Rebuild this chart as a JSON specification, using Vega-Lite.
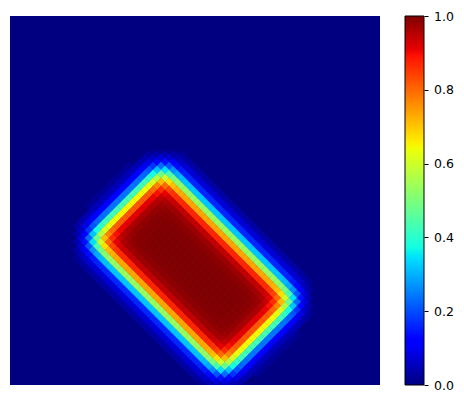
{"$schema":"https://vega.github.io/schema/vega-lite/v6.json","padding":{"left":10,"top":10,"right":0,"bottom":0},"background":"white","config":{"view":{"stroke":null},"font":"DejaVu Sans"},"spacing":24,"hconcat":[{"width":370,"height":369,"view":{"fill":"#000080","stroke":null},"data":{"values":[
{"x":181,"y":153,"v":0.021},{"x":185,"y":157,"v":0.026},{"x":189,"y":161,"v":0.029},{"x":193,"y":165,"v":0.031},{"x":197,"y":169,"v":0.032},{"x":201,"y":173,"v":0.032},{"x":205,"y":177,"v":0.032},{"x":209,"y":181,"v":0.032},{"x":213,"y":185,"v":0.032},{"x":217,"y":189,"v":0.032},{"x":221,"y":193,"v":0.032},{"x":225,"y":197,"v":0.032},{"x":229,"y":201,"v":0.032},{"x":233,"y":205,"v":0.032},{"x":237,"y":209,"v":0.032},{"x":241,"y":213,"v":0.032},{"x":245,"y":217,"v":0.032},{"x":249,"y":221,"v":0.032},{"x":253,"y":225,"v":0.032},{"x":257,"y":229,"v":0.032},{"x":261,"y":233,"v":0.032},{"x":265,"y":237,"v":0.032},{"x":269,"y":241,"v":0.032},{"x":273,"y":245,"v":0.032},{"x":277,"y":249,"v":0.032},{"x":281,"y":253,"v":0.032},{"x":285,"y":257,"v":0.032},{"x":289,"y":261,"v":0.032},{"x":293,"y":265,"v":0.032},{"x":297,"y":269,"v":0.031},{"x":301,"y":273,"v":0.029},{"x":305,"y":277,"v":0.026},{"x":309,"y":281,"v":0.021},
{"x":77,"y":257,"v":0.021},{"x":81,"y":261,"v":0.026},{"x":85,"y":265,"v":0.029},{"x":89,"y":269,"v":0.031},{"x":93,"y":273,"v":0.032},{"x":97,"y":277,"v":0.032},{"x":101,"y":281,"v":0.032},{"x":105,"y":285,"v":0.032},{"x":109,"y":289,"v":0.032},{"x":113,"y":293,"v":0.032},{"x":117,"y":297,"v":0.032},{"x":121,"y":301,"v":0.032},{"x":125,"y":305,"v":0.032},{"x":129,"y":309,"v":0.032},{"x":133,"y":313,"v":0.032},{"x":137,"y":317,"v":0.032},{"x":141,"y":321,"v":0.032},{"x":145,"y":325,"v":0.032},{"x":149,"y":329,"v":0.032},{"x":153,"y":333,"v":0.032},{"x":157,"y":337,"v":0.032},{"x":161,"y":341,"v":0.032},{"x":165,"y":345,"v":0.032},{"x":169,"y":349,"v":0.032},{"x":173,"y":353,"v":0.032},{"x":177,"y":357,"v":0.032},{"x":181,"y":361,"v":0.032},{"x":185,"y":365,"v":0.032},{"x":189,"y":369,"v":0.032},{"x":193,"y":373,"v":0.031},{"x":197,"y":377,"v":0.029},{"x":201,"y":381,"v":0.026},{"x":205,"y":385,"v":0.021},
{"x":173,"y":153,"v":0.032},{"x":177,"y":157,"v":0.048},{"x":181,"y":161,"v":0.061},{"x":185,"y":165,"v":0.068},{"x":189,"y":169,"v":0.071},{"x":193,"y":173,"v":0.073},{"x":197,"y":177,"v":0.074},{"x":201,"y":181,"v":0.074},{"x":205,"y":185,"v":0.074},{"x":209,"y":189,"v":0.074},{"x":213,"y":193,"v":0.074},{"x":217,"y":197,"v":0.074},{"x":221,"y":201,"v":0.074},{"x":225,"y":205,"v":0.074},{"x":229,"y":209,"v":0.074},{"x":233,"y":213,"v":0.074},{"x":237,"y":217,"v":0.074},{"x":241,"y":221,"v":0.074},{"x":245,"y":225,"v":0.074},{"x":249,"y":229,"v":0.074},{"x":253,"y":233,"v":0.074},{"x":257,"y":237,"v":0.074},{"x":261,"y":241,"v":0.074},{"x":265,"y":245,"v":0.074},{"x":269,"y":249,"v":0.074},{"x":273,"y":253,"v":0.074},{"x":277,"y":257,"v":0.074},{"x":281,"y":261,"v":0.074},{"x":285,"y":265,"v":0.074},{"x":289,"y":269,"v":0.073},{"x":293,"y":273,"v":0.071},{"x":297,"y":277,"v":0.068},{"x":301,"y":281,"v":0.061},{"x":305,"y":285,"v":0.048},{"x":309,"y":289,"v":0.032},
{"x":77,"y":249,"v":0.032},{"x":81,"y":253,"v":0.048},{"x":85,"y":257,"v":0.061},{"x":89,"y":261,"v":0.068},{"x":93,"y":265,"v":0.071},{"x":97,"y":269,"v":0.073},{"x":101,"y":273,"v":0.074},{"x":105,"y":277,"v":0.074},{"x":109,"y":281,"v":0.074},{"x":113,"y":285,"v":0.074},{"x":117,"y":289,"v":0.074},{"x":121,"y":293,"v":0.074},{"x":125,"y":297,"v":0.074},{"x":129,"y":301,"v":0.074},{"x":133,"y":305,"v":0.074},{"x":137,"y":309,"v":0.074},{"x":141,"y":313,"v":0.074},{"x":145,"y":317,"v":0.074},{"x":149,"y":321,"v":0.074},{"x":153,"y":325,"v":0.074},{"x":157,"y":329,"v":0.074},{"x":161,"y":333,"v":0.074},{"x":165,"y":337,"v":0.074},{"x":169,"y":341,"v":0.074},{"x":173,"y":345,"v":0.074},{"x":177,"y":349,"v":0.074},{"x":181,"y":353,"v":0.074},{"x":185,"y":357,"v":0.074},{"x":189,"y":361,"v":0.074},{"x":193,"y":365,"v":0.073},{"x":197,"y":369,"v":0.071},{"x":201,"y":373,"v":0.068},{"x":205,"y":377,"v":0.061},{"x":209,"y":381,"v":0.048},{"x":213,"y":385,"v":0.032},
{"x":165,"y":153,"v":0.039},{"x":169,"y":157,"v":0.07},{"x":173,"y":161,"v":0.105},{"x":177,"y":165,"v":0.133},{"x":181,"y":169,"v":0.148},{"x":185,"y":173,"v":0.156},{"x":189,"y":177,"v":0.16},{"x":193,"y":181,"v":0.161},{"x":197,"y":185,"v":0.162},{"x":201,"y":189,"v":0.162},{"x":205,"y":193,"v":0.162},{"x":209,"y":197,"v":0.162},{"x":213,"y":201,"v":0.162},{"x":217,"y":205,"v":0.162},{"x":221,"y":209,"v":0.162},{"x":225,"y":213,"v":0.162},{"x":229,"y":217,"v":0.162},{"x":233,"y":221,"v":0.162},{"x":237,"y":225,"v":0.162},{"x":241,"y":229,"v":0.162},{"x":245,"y":233,"v":0.162},{"x":249,"y":237,"v":0.162},{"x":253,"y":241,"v":0.162},{"x":257,"y":245,"v":0.162},{"x":261,"y":249,"v":0.162},{"x":265,"y":253,"v":0.162},{"x":269,"y":257,"v":0.162},{"x":273,"y":261,"v":0.162},{"x":277,"y":265,"v":0.162},{"x":281,"y":269,"v":0.161},{"x":285,"y":273,"v":0.16},{"x":289,"y":277,"v":0.156},{"x":293,"y":281,"v":0.148},{"x":297,"y":285,"v":0.133},{"x":301,"y":289,"v":0.105},{"x":305,"y":293,"v":0.07},{"x":309,"y":297,"v":0.039},
{"x":77,"y":241,"v":0.039},{"x":81,"y":245,"v":0.07},{"x":85,"y":249,"v":0.105},{"x":89,"y":253,"v":0.133},{"x":93,"y":257,"v":0.148},{"x":97,"y":261,"v":0.156},{"x":101,"y":265,"v":0.16},{"x":105,"y":269,"v":0.161},{"x":109,"y":273,"v":0.162},{"x":113,"y":277,"v":0.162},{"x":117,"y":281,"v":0.162},{"x":121,"y":285,"v":0.162},{"x":125,"y":289,"v":0.162},{"x":129,"y":293,"v":0.162},{"x":133,"y":297,"v":0.162},{"x":137,"y":301,"v":0.162},{"x":141,"y":305,"v":0.162},{"x":145,"y":309,"v":0.162},{"x":149,"y":313,"v":0.162},{"x":153,"y":317,"v":0.162},{"x":157,"y":321,"v":0.162},{"x":161,"y":325,"v":0.162},{"x":165,"y":329,"v":0.162},{"x":169,"y":333,"v":0.162},{"x":173,"y":337,"v":0.162},{"x":177,"y":341,"v":0.162},{"x":181,"y":345,"v":0.162},{"x":185,"y":349,"v":0.162},{"x":189,"y":353,"v":0.162},{"x":193,"y":357,"v":0.161},{"x":197,"y":361,"v":0.16},{"x":201,"y":365,"v":0.156},{"x":205,"y":369,"v":0.148},{"x":209,"y":373,"v":0.133},{"x":213,"y":377,"v":0.105},{"x":217,"y":381,"v":0.07},{"x":221,"y":385,"v":0.039},
{"x":157,"y":153,"v":0.036},{"x":161,"y":157,"v":0.076},{"x":165,"y":161,"v":0.138},{"x":169,"y":165,"v":0.207},{"x":173,"y":169,"v":0.262},{"x":177,"y":173,"v":0.293},{"x":181,"y":177,"v":0.308},{"x":185,"y":181,"v":0.315},{"x":189,"y":185,"v":0.318},{"x":193,"y":189,"v":0.319},{"x":197,"y":193,"v":0.32},{"x":201,"y":197,"v":0.32},{"x":205,"y":201,"v":0.32},{"x":209,"y":205,"v":0.32},{"x":213,"y":209,"v":0.32},{"x":217,"y":213,"v":0.32},{"x":221,"y":217,"v":0.32},{"x":225,"y":221,"v":0.32},{"x":229,"y":225,"v":0.32},{"x":233,"y":229,"v":0.32},{"x":237,"y":233,"v":0.32},{"x":241,"y":237,"v":0.32},{"x":245,"y":241,"v":0.32},{"x":249,"y":245,"v":0.32},{"x":253,"y":249,"v":0.32},{"x":257,"y":253,"v":0.32},{"x":261,"y":257,"v":0.32},{"x":265,"y":261,"v":0.32},{"x":269,"y":265,"v":0.32},{"x":273,"y":269,"v":0.319},{"x":277,"y":273,"v":0.318},{"x":281,"y":277,"v":0.315},{"x":285,"y":281,"v":0.308},{"x":289,"y":285,"v":0.293},{"x":293,"y":289,"v":0.262},{"x":297,"y":293,"v":0.207},{"x":301,"y":297,"v":0.138},{"x":305,"y":301,"v":0.076},{"x":309,"y":305,"v":0.036},
{"x":77,"y":233,"v":0.036},{"x":81,"y":237,"v":0.076},{"x":85,"y":241,"v":0.138},{"x":89,"y":245,"v":0.207},{"x":93,"y":249,"v":0.262},{"x":97,"y":253,"v":0.293},{"x":101,"y":257,"v":0.308},{"x":105,"y":261,"v":0.315},{"x":109,"y":265,"v":0.318},{"x":113,"y":269,"v":0.319},{"x":117,"y":273,"v":0.32},{"x":121,"y":277,"v":0.32},{"x":125,"y":281,"v":0.32},{"x":129,"y":285,"v":0.32},{"x":133,"y":289,"v":0.32},{"x":137,"y":293,"v":0.32},{"x":141,"y":297,"v":0.32},{"x":145,"y":301,"v":0.32},{"x":149,"y":305,"v":0.32},{"x":153,"y":309,"v":0.32},{"x":157,"y":313,"v":0.32},{"x":161,"y":317,"v":0.32},{"x":165,"y":321,"v":0.32},{"x":169,"y":325,"v":0.32},{"x":173,"y":329,"v":0.32},{"x":177,"y":333,"v":0.32},{"x":181,"y":337,"v":0.32},{"x":185,"y":341,"v":0.32},{"x":189,"y":345,"v":0.32},{"x":193,"y":349,"v":0.319},{"x":197,"y":353,"v":0.318},{"x":201,"y":357,"v":0.315},{"x":205,"y":361,"v":0.308},{"x":209,"y":365,"v":0.293},{"x":213,"y":369,"v":0.262},{"x":217,"y":373,"v":0.207},{"x":221,"y":377,"v":0.138},{"x":225,"y":381,"v":0.076},{"x":229,"y":385,"v":0.036},
{"x":149,"y":153,"v":0.027},{"x":153,"y":157,"v":0.06},{"x":157,"y":161,"v":0.127},{"x":161,"y":165,"v":0.23},{"x":165,"y":169,"v":0.345},{"x":169,"y":173,"v":0.436},{"x":173,"y":177,"v":0.488},{"x":177,"y":181,"v":0.514},{"x":181,"y":185,"v":0.525},{"x":185,"y":189,"v":0.53},{"x":189,"y":193,"v":0.531},{"x":193,"y":197,"v":0.532},{"x":197,"y":201,"v":0.533},{"x":201,"y":205,"v":0.533},{"x":205,"y":209,"v":0.533},{"x":209,"y":213,"v":0.533},{"x":213,"y":217,"v":0.533},{"x":217,"y":221,"v":0.533},{"x":221,"y":225,"v":0.533},{"x":225,"y":229,"v":0.533},{"x":229,"y":233,"v":0.533},{"x":233,"y":237,"v":0.533},{"x":237,"y":241,"v":0.533},{"x":241,"y":245,"v":0.533},{"x":245,"y":249,"v":0.533},{"x":249,"y":253,"v":0.533},{"x":253,"y":257,"v":0.533},{"x":257,"y":261,"v":0.533},{"x":261,"y":265,"v":0.533},{"x":265,"y":269,"v":0.532},{"x":269,"y":273,"v":0.531},{"x":273,"y":277,"v":0.53},{"x":277,"y":281,"v":0.525},{"x":281,"y":285,"v":0.514},{"x":285,"y":289,"v":0.488},{"x":289,"y":293,"v":0.436},{"x":293,"y":297,"v":0.345},{"x":297,"y":301,"v":0.23},{"x":301,"y":305,"v":0.127},{"x":305,"y":309,"v":0.06},{"x":309,"y":313,"v":0.027},
{"x":77,"y":225,"v":0.027},{"x":81,"y":229,"v":0.06},{"x":85,"y":233,"v":0.127},{"x":89,"y":237,"v":0.23},{"x":93,"y":241,"v":0.345},{"x":97,"y":245,"v":0.436},{"x":101,"y":249,"v":0.488},{"x":105,"y":253,"v":0.514},{"x":109,"y":257,"v":0.525},{"x":113,"y":261,"v":0.53},{"x":117,"y":265,"v":0.531},{"x":121,"y":269,"v":0.532},{"x":125,"y":273,"v":0.533},{"x":129,"y":277,"v":0.533},{"x":133,"y":281,"v":0.533},{"x":137,"y":285,"v":0.533},{"x":141,"y":289,"v":0.533},{"x":145,"y":293,"v":0.533},{"x":149,"y":297,"v":0.533},{"x":153,"y":301,"v":0.533},{"x":157,"y":305,"v":0.533},{"x":161,"y":309,"v":0.533},{"x":165,"y":313,"v":0.533},{"x":169,"y":317,"v":0.533},{"x":173,"y":321,"v":0.533},{"x":177,"y":325,"v":0.533},{"x":181,"y":329,"v":0.533},{"x":185,"y":333,"v":0.533},{"x":189,"y":337,"v":0.533},{"x":193,"y":341,"v":0.532},{"x":197,"y":345,"v":0.531},{"x":201,"y":349,"v":0.53},{"x":205,"y":353,"v":0.525},{"x":209,"y":357,"v":0.514},{"x":213,"y":361,"v":0.488},{"x":217,"y":365,"v":0.436},{"x":221,"y":369,"v":0.345},{"x":225,"y":373,"v":0.23},{"x":229,"y":377,"v":0.127},{"x":233,"y":381,"v":0.06},{"x":237,"y":385,"v":0.027},
{"x":145,"y":157,"v":0.037},{"x":149,"y":161,"v":0.083},{"x":153,"y":165,"v":0.175},{"x":157,"y":169,"v":0.317},{"x":161,"y":173,"v":0.476},{"x":165,"y":177,"v":0.601},{"x":169,"y":181,"v":0.673},{"x":173,"y":185,"v":0.709},{"x":177,"y":189,"v":0.724},{"x":181,"y":193,"v":0.731},{"x":185,"y":197,"v":0.733},{"x":189,"y":201,"v":0.734},{"x":193,"y":205,"v":0.735},{"x":197,"y":209,"v":0.735},{"x":201,"y":213,"v":0.735},{"x":205,"y":217,"v":0.735},{"x":209,"y":221,"v":0.735},{"x":213,"y":225,"v":0.735},{"x":217,"y":229,"v":0.735},{"x":221,"y":233,"v":0.735},{"x":225,"y":237,"v":0.735},{"x":229,"y":241,"v":0.735},{"x":233,"y":245,"v":0.735},{"x":237,"y":249,"v":0.735},{"x":241,"y":253,"v":0.735},{"x":245,"y":257,"v":0.735},{"x":249,"y":261,"v":0.735},{"x":253,"y":265,"v":0.735},{"x":257,"y":269,"v":0.735},{"x":261,"y":273,"v":0.734},{"x":265,"y":277,"v":0.733},{"x":269,"y":281,"v":0.731},{"x":273,"y":285,"v":0.724},{"x":277,"y":289,"v":0.709},{"x":281,"y":293,"v":0.673},{"x":285,"y":297,"v":0.601},{"x":289,"y":301,"v":0.476},{"x":293,"y":305,"v":0.317},{"x":297,"y":309,"v":0.175},{"x":301,"y":313,"v":0.083},{"x":305,"y":317,"v":0.037},
{"x":81,"y":221,"v":0.037},{"x":85,"y":225,"v":0.083},{"x":89,"y":229,"v":0.175},{"x":93,"y":233,"v":0.317},{"x":97,"y":237,"v":0.476},{"x":101,"y":241,"v":0.601},{"x":105,"y":245,"v":0.673},{"x":109,"y":249,"v":0.709},{"x":113,"y":253,"v":0.724},{"x":117,"y":257,"v":0.731},{"x":121,"y":261,"v":0.733},{"x":125,"y":265,"v":0.734},{"x":129,"y":269,"v":0.735},{"x":133,"y":273,"v":0.735},{"x":137,"y":277,"v":0.735},{"x":141,"y":281,"v":0.735},{"x":145,"y":285,"v":0.735},{"x":149,"y":289,"v":0.735},{"x":153,"y":293,"v":0.735},{"x":157,"y":297,"v":0.735},{"x":161,"y":301,"v":0.735},{"x":165,"y":305,"v":0.735},{"x":169,"y":309,"v":0.735},{"x":173,"y":313,"v":0.735},{"x":177,"y":317,"v":0.735},{"x":181,"y":321,"v":0.735},{"x":185,"y":325,"v":0.735},{"x":189,"y":329,"v":0.735},{"x":193,"y":333,"v":0.735},{"x":197,"y":337,"v":0.734},{"x":201,"y":341,"v":0.733},{"x":205,"y":345,"v":0.731},{"x":209,"y":349,"v":0.724},{"x":213,"y":353,"v":0.709},{"x":217,"y":357,"v":0.673},{"x":221,"y":361,"v":0.601},{"x":225,"y":365,"v":0.476},{"x":229,"y":369,"v":0.317},{"x":233,"y":373,"v":0.175},{"x":237,"y":377,"v":0.083},{"x":241,"y":381,"v":0.037},
{"x":141,"y":161,"v":0.044},{"x":145,"y":165,"v":0.098},{"x":149,"y":169,"v":0.207},{"x":153,"y":173,"v":0.375},{"x":157,"y":177,"v":0.564},{"x":161,"y":181,"v":0.712},{"x":165,"y":185,"v":0.798},{"x":169,"y":189,"v":0.84},{"x":173,"y":193,"v":0.858},{"x":177,"y":197,"v":0.866},{"x":181,"y":201,"v":0.868},{"x":185,"y":205,"v":0.87},{"x":189,"y":209,"v":0.871},{"x":193,"y":213,"v":0.871},{"x":197,"y":217,"v":0.871},{"x":201,"y":221,"v":0.871},{"x":205,"y":225,"v":0.871},{"x":209,"y":229,"v":0.871},{"x":213,"y":233,"v":0.871},{"x":217,"y":237,"v":0.871},{"x":221,"y":241,"v":0.871},{"x":225,"y":245,"v":0.871},{"x":229,"y":249,"v":0.871},{"x":233,"y":253,"v":0.871},{"x":237,"y":257,"v":0.871},{"x":241,"y":261,"v":0.871},{"x":245,"y":265,"v":0.871},{"x":249,"y":269,"v":0.871},{"x":253,"y":273,"v":0.871},{"x":257,"y":277,"v":0.87},{"x":261,"y":281,"v":0.868},{"x":265,"y":285,"v":0.866},{"x":269,"y":289,"v":0.858},{"x":273,"y":293,"v":0.84},{"x":277,"y":297,"v":0.798},{"x":281,"y":301,"v":0.712},{"x":285,"y":305,"v":0.564},{"x":289,"y":309,"v":0.375},{"x":293,"y":313,"v":0.207},{"x":297,"y":317,"v":0.098},{"x":301,"y":321,"v":0.044},
{"x":85,"y":217,"v":0.044},{"x":89,"y":221,"v":0.098},{"x":93,"y":225,"v":0.207},{"x":97,"y":229,"v":0.375},{"x":101,"y":233,"v":0.564},{"x":105,"y":237,"v":0.712},{"x":109,"y":241,"v":0.798},{"x":113,"y":245,"v":0.84},{"x":117,"y":249,"v":0.858},{"x":121,"y":253,"v":0.866},{"x":125,"y":257,"v":0.868},{"x":129,"y":261,"v":0.87},{"x":133,"y":265,"v":0.871},{"x":137,"y":269,"v":0.871},{"x":141,"y":273,"v":0.871},{"x":145,"y":277,"v":0.871},{"x":149,"y":281,"v":0.871},{"x":153,"y":285,"v":0.871},{"x":157,"y":289,"v":0.871},{"x":161,"y":293,"v":0.871},{"x":165,"y":297,"v":0.871},{"x":169,"y":301,"v":0.871},{"x":173,"y":305,"v":0.871},{"x":177,"y":309,"v":0.871},{"x":181,"y":313,"v":0.871},{"x":185,"y":317,"v":0.871},{"x":189,"y":321,"v":0.871},{"x":193,"y":325,"v":0.871},{"x":197,"y":329,"v":0.871},{"x":201,"y":333,"v":0.87},{"x":205,"y":337,"v":0.868},{"x":209,"y":341,"v":0.866},{"x":213,"y":345,"v":0.858},{"x":217,"y":349,"v":0.84},{"x":221,"y":353,"v":0.798},{"x":225,"y":357,"v":0.712},{"x":229,"y":361,"v":0.564},{"x":233,"y":365,"v":0.375},{"x":237,"y":369,"v":0.207},{"x":241,"y":373,"v":0.098},{"x":245,"y":377,"v":0.044},
{"x":137,"y":165,"v":0.047},{"x":141,"y":169,"v":0.107},{"x":145,"y":173,"v":0.224},{"x":149,"y":177,"v":0.406},{"x":153,"y":181,"v":0.611},{"x":157,"y":185,"v":0.771},{"x":161,"y":189,"v":0.864},{"x":165,"y":193,"v":0.909},{"x":169,"y":197,"v":0.929},{"x":173,"y":201,"v":0.937},{"x":177,"y":205,"v":0.94},{"x":181,"y":209,"v":0.942},{"x":185,"y":213,"v":0.943},{"x":189,"y":217,"v":0.943},{"x":193,"y":221,"v":0.943},{"x":197,"y":225,"v":0.943},{"x":201,"y":229,"v":0.943},{"x":205,"y":233,"v":0.943},{"x":209,"y":237,"v":0.943},{"x":213,"y":241,"v":0.943},{"x":217,"y":245,"v":0.943},{"x":221,"y":249,"v":0.943},{"x":225,"y":253,"v":0.943},{"x":229,"y":257,"v":0.943},{"x":233,"y":261,"v":0.943},{"x":237,"y":265,"v":0.943},{"x":241,"y":269,"v":0.943},{"x":245,"y":273,"v":0.943},{"x":249,"y":277,"v":0.943},{"x":253,"y":281,"v":0.942},{"x":257,"y":285,"v":0.94},{"x":261,"y":289,"v":0.937},{"x":265,"y":293,"v":0.929},{"x":269,"y":297,"v":0.909},{"x":273,"y":301,"v":0.864},{"x":277,"y":305,"v":0.771},{"x":281,"y":309,"v":0.611},{"x":285,"y":313,"v":0.406},{"x":289,"y":317,"v":0.224},{"x":293,"y":321,"v":0.107},{"x":297,"y":325,"v":0.047},
{"x":89,"y":213,"v":0.047},{"x":93,"y":217,"v":0.107},{"x":97,"y":221,"v":0.224},{"x":101,"y":225,"v":0.406},{"x":105,"y":229,"v":0.611},{"x":109,"y":233,"v":0.771},{"x":113,"y":237,"v":0.864},{"x":117,"y":241,"v":0.909},{"x":121,"y":245,"v":0.929},{"x":125,"y":249,"v":0.937},{"x":129,"y":253,"v":0.94},{"x":133,"y":257,"v":0.942},{"x":137,"y":261,"v":0.943},{"x":141,"y":265,"v":0.943},{"x":145,"y":269,"v":0.943},{"x":149,"y":273,"v":0.943},{"x":153,"y":277,"v":0.943},{"x":157,"y":281,"v":0.943},{"x":161,"y":285,"v":0.943},{"x":165,"y":289,"v":0.943},{"x":169,"y":293,"v":0.943},{"x":173,"y":297,"v":0.943},{"x":177,"y":301,"v":0.943},{"x":181,"y":305,"v":0.943},{"x":185,"y":309,"v":0.943},{"x":189,"y":313,"v":0.943},{"x":193,"y":317,"v":0.943},{"x":197,"y":321,"v":0.943},{"x":201,"y":325,"v":0.943},{"x":205,"y":329,"v":0.942},{"x":209,"y":333,"v":0.94},{"x":213,"y":337,"v":0.937},{"x":217,"y":341,"v":0.929},{"x":221,"y":345,"v":0.909},{"x":225,"y":349,"v":0.864},{"x":229,"y":353,"v":0.771},{"x":233,"y":357,"v":0.611},{"x":237,"y":361,"v":0.406},{"x":241,"y":365,"v":0.224},{"x":245,"y":369,"v":0.107},{"x":249,"y":373,"v":0.047},
{"x":129,"y":165,"v":0.02},{"x":133,"y":169,"v":0.049},{"x":137,"y":173,"v":0.11},{"x":141,"y":177,"v":0.232},{"x":145,"y":181,"v":0.421},{"x":149,"y":185,"v":0.632},{"x":153,"y":189,"v":0.798},{"x":157,"y":193,"v":0.894},{"x":161,"y":197,"v":0.941},{"x":165,"y":201,"v":0.961},{"x":169,"y":205,"v":0.97},{"x":173,"y":209,"v":0.973},{"x":177,"y":213,"v":0.975},{"x":181,"y":217,"v":0.976},{"x":185,"y":221,"v":0.976},{"x":189,"y":225,"v":0.976},{"x":193,"y":229,"v":0.976},{"x":197,"y":233,"v":0.976},{"x":201,"y":237,"v":0.976},{"x":205,"y":241,"v":0.976},{"x":209,"y":245,"v":0.976},{"x":213,"y":249,"v":0.976},{"x":217,"y":253,"v":0.976},{"x":221,"y":257,"v":0.976},{"x":225,"y":261,"v":0.976},{"x":229,"y":265,"v":0.976},{"x":233,"y":269,"v":0.976},{"x":237,"y":273,"v":0.976},{"x":241,"y":277,"v":0.976},{"x":245,"y":281,"v":0.976},{"x":249,"y":285,"v":0.975},{"x":253,"y":289,"v":0.973},{"x":257,"y":293,"v":0.97},{"x":261,"y":297,"v":0.961},{"x":265,"y":301,"v":0.941},{"x":269,"y":305,"v":0.894},{"x":273,"y":309,"v":0.798},{"x":277,"y":313,"v":0.632},{"x":281,"y":317,"v":0.421},{"x":285,"y":321,"v":0.232},{"x":289,"y":325,"v":0.11},{"x":293,"y":329,"v":0.049},{"x":297,"y":333,"v":0.02},
{"x":89,"y":205,"v":0.02},{"x":93,"y":209,"v":0.049},{"x":97,"y":213,"v":0.11},{"x":101,"y":217,"v":0.232},{"x":105,"y":221,"v":0.421},{"x":109,"y":225,"v":0.632},{"x":113,"y":229,"v":0.798},{"x":117,"y":233,"v":0.894},{"x":121,"y":237,"v":0.941},{"x":125,"y":241,"v":0.961},{"x":129,"y":245,"v":0.97},{"x":133,"y":249,"v":0.973},{"x":137,"y":253,"v":0.975},{"x":141,"y":257,"v":0.976},{"x":145,"y":261,"v":0.976},{"x":149,"y":265,"v":0.976},{"x":153,"y":269,"v":0.976},{"x":157,"y":273,"v":0.976},{"x":161,"y":277,"v":0.976},{"x":165,"y":281,"v":0.976},{"x":169,"y":285,"v":0.976},{"x":173,"y":289,"v":0.976},{"x":177,"y":293,"v":0.976},{"x":181,"y":297,"v":0.976},{"x":185,"y":301,"v":0.976},{"x":189,"y":305,"v":0.976},{"x":193,"y":309,"v":0.976},{"x":197,"y":313,"v":0.976},{"x":201,"y":317,"v":0.976},{"x":205,"y":321,"v":0.976},{"x":209,"y":325,"v":0.975},{"x":213,"y":329,"v":0.973},{"x":217,"y":333,"v":0.97},{"x":221,"y":337,"v":0.961},{"x":225,"y":341,"v":0.941},{"x":229,"y":345,"v":0.894},{"x":233,"y":349,"v":0.798},{"x":237,"y":353,"v":0.632},{"x":241,"y":357,"v":0.421},{"x":245,"y":361,"v":0.232},{"x":249,"y":365,"v":0.11},{"x":253,"y":369,"v":0.049},{"x":257,"y":373,"v":0.02},
{"x":125,"y":169,"v":0.021},{"x":129,"y":173,"v":0.05},{"x":133,"y":177,"v":0.112},{"x":137,"y":181,"v":0.236},{"x":141,"y":185,"v":0.427},{"x":145,"y":189,"v":0.642},{"x":149,"y":193,"v":0.81},{"x":153,"y":197,"v":0.907},{"x":157,"y":201,"v":0.954},{"x":161,"y":205,"v":0.975},{"x":165,"y":209,"v":0.984},{"x":169,"y":213,"v":0.987},{"x":173,"y":217,"v":0.989},{"x":177,"y":221,"v":0.99},{"x":181,"y":225,"v":0.99},{"x":185,"y":229,"v":0.99},{"x":189,"y":233,"v":0.99},{"x":193,"y":237,"v":0.99},{"x":197,"y":241,"v":0.99},{"x":201,"y":245,"v":0.99},{"x":205,"y":249,"v":0.99},{"x":209,"y":253,"v":0.99},{"x":213,"y":257,"v":0.99},{"x":217,"y":261,"v":0.99},{"x":221,"y":265,"v":0.99},{"x":225,"y":269,"v":0.99},{"x":229,"y":273,"v":0.99},{"x":233,"y":277,"v":0.99},{"x":237,"y":281,"v":0.99},{"x":241,"y":285,"v":0.99},{"x":245,"y":289,"v":0.989},{"x":249,"y":293,"v":0.987},{"x":253,"y":297,"v":0.984},{"x":257,"y":301,"v":0.975},{"x":261,"y":305,"v":0.954},{"x":265,"y":309,"v":0.907},{"x":269,"y":313,"v":0.81},{"x":273,"y":317,"v":0.642},{"x":277,"y":321,"v":0.427},{"x":281,"y":325,"v":0.236},{"x":285,"y":329,"v":0.112},{"x":289,"y":333,"v":0.05},{"x":293,"y":337,"v":0.021},
{"x":93,"y":201,"v":0.021},{"x":97,"y":205,"v":0.05},{"x":101,"y":209,"v":0.112},{"x":105,"y":213,"v":0.236},{"x":109,"y":217,"v":0.427},{"x":113,"y":221,"v":0.642},{"x":117,"y":225,"v":0.81},{"x":121,"y":229,"v":0.907},{"x":125,"y":233,"v":0.954},{"x":129,"y":237,"v":0.975},{"x":133,"y":241,"v":0.984},{"x":137,"y":245,"v":0.987},{"x":141,"y":249,"v":0.989},{"x":145,"y":253,"v":0.99},{"x":149,"y":257,"v":0.99},{"x":153,"y":261,"v":0.99},{"x":157,"y":265,"v":0.99},{"x":161,"y":269,"v":0.99},{"x":165,"y":273,"v":0.99},{"x":169,"y":277,"v":0.99},{"x":173,"y":281,"v":0.99},{"x":177,"y":285,"v":0.99},{"x":181,"y":289,"v":0.99},{"x":185,"y":293,"v":0.99},{"x":189,"y":297,"v":0.99},{"x":193,"y":301,"v":0.99},{"x":197,"y":305,"v":0.99},{"x":201,"y":309,"v":0.99},{"x":205,"y":313,"v":0.99},{"x":209,"y":317,"v":0.99},{"x":213,"y":321,"v":0.989},{"x":217,"y":325,"v":0.987},{"x":221,"y":329,"v":0.984},{"x":225,"y":333,"v":0.975},{"x":229,"y":337,"v":0.954},{"x":233,"y":341,"v":0.907},{"x":237,"y":345,"v":0.81},{"x":241,"y":349,"v":0.642},{"x":245,"y":353,"v":0.427},{"x":249,"y":357,"v":0.236},{"x":253,"y":361,"v":0.112},{"x":257,"y":365,"v":0.05},{"x":261,"y":369,"v":0.021},
{"x":121,"y":173,"v":0.021},{"x":125,"y":177,"v":0.05},{"x":129,"y":181,"v":0.113},{"x":133,"y":185,"v":0.237},{"x":137,"y":189,"v":0.429},{"x":141,"y":193,"v":0.645},{"x":145,"y":197,"v":0.815},{"x":149,"y":201,"v":0.912},{"x":153,"y":205,"v":0.96},{"x":157,"y":209,"v":0.981},{"x":161,"y":213,"v":0.99},{"x":165,"y":217,"v":0.993},{"x":169,"y":221,"v":0.995},{"x":173,"y":225,"v":0.996},{"x":177,"y":229,"v":0.996},{"x":181,"y":233,"v":0.996},{"x":185,"y":237,"v":0.996},{"x":189,"y":241,"v":0.996},{"x":193,"y":245,"v":0.996},{"x":197,"y":249,"v":0.996},{"x":201,"y":253,"v":0.996},{"x":205,"y":257,"v":0.996},{"x":209,"y":261,"v":0.996},{"x":213,"y":265,"v":0.996},{"x":217,"y":269,"v":0.996},{"x":221,"y":273,"v":0.996},{"x":225,"y":277,"v":0.996},{"x":229,"y":281,"v":0.996},{"x":233,"y":285,"v":0.996},{"x":237,"y":289,"v":0.996},{"x":241,"y":293,"v":0.995},{"x":245,"y":297,"v":0.993},{"x":249,"y":301,"v":0.99},{"x":253,"y":305,"v":0.981},{"x":257,"y":309,"v":0.96},{"x":261,"y":313,"v":0.912},{"x":265,"y":317,"v":0.815},{"x":269,"y":321,"v":0.645},{"x":273,"y":325,"v":0.429},{"x":277,"y":329,"v":0.237},{"x":281,"y":333,"v":0.113},{"x":285,"y":337,"v":0.05},{"x":289,"y":341,"v":0.021},
{"x":97,"y":197,"v":0.021},{"x":101,"y":201,"v":0.05},{"x":105,"y":205,"v":0.113},{"x":109,"y":209,"v":0.237},{"x":113,"y":213,"v":0.429},{"x":117,"y":217,"v":0.645},{"x":121,"y":221,"v":0.815},{"x":125,"y":225,"v":0.912},{"x":129,"y":229,"v":0.96},{"x":133,"y":233,"v":0.981},{"x":137,"y":237,"v":0.99},{"x":141,"y":241,"v":0.993},{"x":145,"y":245,"v":0.995},{"x":149,"y":249,"v":0.996},{"x":153,"y":253,"v":0.996},{"x":157,"y":257,"v":0.996},{"x":161,"y":261,"v":0.996},{"x":165,"y":265,"v":0.996},{"x":169,"y":269,"v":0.996},{"x":173,"y":273,"v":0.996},{"x":177,"y":277,"v":0.996},{"x":181,"y":281,"v":0.996},{"x":185,"y":285,"v":0.996},{"x":189,"y":289,"v":0.996},{"x":193,"y":293,"v":0.996},{"x":197,"y":297,"v":0.996},{"x":201,"y":301,"v":0.996},{"x":205,"y":305,"v":0.996},{"x":209,"y":309,"v":0.996},{"x":213,"y":313,"v":0.996},{"x":217,"y":317,"v":0.995},{"x":221,"y":321,"v":0.993},{"x":225,"y":325,"v":0.99},{"x":229,"y":329,"v":0.981},{"x":233,"y":333,"v":0.96},{"x":237,"y":337,"v":0.912},{"x":241,"y":341,"v":0.815},{"x":245,"y":345,"v":0.645},{"x":249,"y":349,"v":0.429},{"x":253,"y":353,"v":0.237},{"x":257,"y":357,"v":0.113},{"x":261,"y":361,"v":0.05},{"x":265,"y":365,"v":0.021},
{"x":117,"y":177,"v":0.021},{"x":121,"y":181,"v":0.05},{"x":125,"y":185,"v":0.113},{"x":129,"y":189,"v":0.238},{"x":133,"y":193,"v":0.43},{"x":137,"y":197,"v":0.647},{"x":141,"y":201,"v":0.816},{"x":145,"y":205,"v":0.914},{"x":149,"y":209,"v":0.962},{"x":153,"y":213,"v":0.983},{"x":157,"y":217,"v":0.992},{"x":161,"y":221,"v":0.995},{"x":165,"y":225,"v":0.997},{"x":169,"y":229,"v":0.998},{"x":173,"y":233,"v":0.998},{"x":177,"y":237,"v":0.998},{"x":181,"y":241,"v":0.998},{"x":185,"y":245,"v":0.998},{"x":189,"y":249,"v":0.998},{"x":193,"y":253,"v":0.998},{"x":197,"y":257,"v":0.998},{"x":201,"y":261,"v":0.998},{"x":205,"y":265,"v":0.998},{"x":209,"y":269,"v":0.998},{"x":213,"y":273,"v":0.998},{"x":217,"y":277,"v":0.998},{"x":221,"y":281,"v":0.998},{"x":225,"y":285,"v":0.998},{"x":229,"y":289,"v":0.998},{"x":233,"y":293,"v":0.998},{"x":237,"y":297,"v":0.997},{"x":241,"y":301,"v":0.995},{"x":245,"y":305,"v":0.992},{"x":249,"y":309,"v":0.983},{"x":253,"y":313,"v":0.962},{"x":257,"y":317,"v":0.914},{"x":261,"y":321,"v":0.816},{"x":265,"y":325,"v":0.647},{"x":269,"y":329,"v":0.43},{"x":273,"y":333,"v":0.238},{"x":277,"y":337,"v":0.113},{"x":281,"y":341,"v":0.05},{"x":285,"y":345,"v":0.021},
{"x":101,"y":193,"v":0.021},{"x":105,"y":197,"v":0.05},{"x":109,"y":201,"v":0.113},{"x":113,"y":205,"v":0.238},{"x":117,"y":209,"v":0.43},{"x":121,"y":213,"v":0.647},{"x":125,"y":217,"v":0.816},{"x":129,"y":221,"v":0.914},{"x":133,"y":225,"v":0.962},{"x":137,"y":229,"v":0.983},{"x":141,"y":233,"v":0.992},{"x":145,"y":237,"v":0.995},{"x":149,"y":241,"v":0.997},{"x":153,"y":245,"v":0.998},{"x":157,"y":249,"v":0.998},{"x":161,"y":253,"v":0.998},{"x":165,"y":257,"v":0.998},{"x":169,"y":261,"v":0.998},{"x":173,"y":265,"v":0.998},{"x":177,"y":269,"v":0.998},{"x":181,"y":273,"v":0.998},{"x":185,"y":277,"v":0.998},{"x":189,"y":281,"v":0.998},{"x":193,"y":285,"v":0.998},{"x":197,"y":289,"v":0.998},{"x":201,"y":293,"v":0.998},{"x":205,"y":297,"v":0.998},{"x":209,"y":301,"v":0.998},{"x":213,"y":305,"v":0.998},{"x":217,"y":309,"v":0.998},{"x":221,"y":313,"v":0.997},{"x":225,"y":317,"v":0.995},{"x":229,"y":321,"v":0.992},{"x":233,"y":325,"v":0.983},{"x":237,"y":329,"v":0.962},{"x":241,"y":333,"v":0.914},{"x":245,"y":337,"v":0.816},{"x":249,"y":341,"v":0.647},{"x":253,"y":345,"v":0.43},{"x":257,"y":349,"v":0.238},{"x":261,"y":353,"v":0.113},{"x":265,"y":357,"v":0.05},{"x":269,"y":361,"v":0.021},
{"x":113,"y":181,"v":0.021},{"x":117,"y":185,"v":0.05},{"x":121,"y":189,"v":0.113},{"x":125,"y":193,"v":0.238},{"x":129,"y":197,"v":0.431},{"x":133,"y":201,"v":0.647},{"x":137,"y":205,"v":0.817},{"x":141,"y":209,"v":0.915},{"x":145,"y":213,"v":0.963},{"x":149,"y":217,"v":0.984},{"x":153,"y":221,"v":0.993},{"x":157,"y":225,"v":0.996},{"x":161,"y":229,"v":0.998},{"x":165,"y":233,"v":0.999},{"x":169,"y":237,"v":0.999},{"x":173,"y":241,"v":0.999},{"x":177,"y":245,"v":0.999},{"x":181,"y":249,"v":0.999},{"x":185,"y":253,"v":0.999},{"x":189,"y":257,"v":0.999},{"x":193,"y":261,"v":0.999},{"x":197,"y":265,"v":0.999},{"x":201,"y":269,"v":0.999},{"x":205,"y":273,"v":0.999},{"x":209,"y":277,"v":0.999},{"x":213,"y":281,"v":0.999},{"x":217,"y":285,"v":0.999},{"x":221,"y":289,"v":0.999},{"x":225,"y":293,"v":0.999},{"x":229,"y":297,"v":0.999},{"x":233,"y":301,"v":0.998},{"x":237,"y":305,"v":0.996},{"x":241,"y":309,"v":0.993},{"x":245,"y":313,"v":0.984},{"x":249,"y":317,"v":0.963},{"x":253,"y":321,"v":0.915},{"x":257,"y":325,"v":0.817},{"x":261,"y":329,"v":0.647},{"x":265,"y":333,"v":0.431},{"x":269,"y":337,"v":0.238},{"x":273,"y":341,"v":0.113},{"x":277,"y":345,"v":0.05},{"x":281,"y":349,"v":0.021},
{"x":109,"y":185,"v":0.021},{"x":113,"y":189,"v":0.05},{"x":117,"y":193,"v":0.113},{"x":121,"y":197,"v":0.238},{"x":125,"y":201,"v":0.431},{"x":129,"y":205,"v":0.647},{"x":133,"y":209,"v":0.817},{"x":137,"y":213,"v":0.915},{"x":141,"y":217,"v":0.963},{"x":145,"y":221,"v":0.984},{"x":149,"y":225,"v":0.993},{"x":153,"y":229,"v":0.996},{"x":157,"y":233,"v":0.998},{"x":161,"y":237,"v":0.999},{"x":165,"y":241,"v":0.999},{"x":169,"y":245,"v":0.999},{"x":173,"y":249,"v":0.999},{"x":177,"y":253,"v":0.999},{"x":181,"y":257,"v":0.999},{"x":185,"y":261,"v":0.999},{"x":189,"y":265,"v":0.999},{"x":193,"y":269,"v":0.999},{"x":197,"y":273,"v":0.999},{"x":201,"y":277,"v":0.999},{"x":205,"y":281,"v":0.999},{"x":209,"y":285,"v":0.999},{"x":213,"y":289,"v":0.999},{"x":217,"y":293,"v":0.999},{"x":221,"y":297,"v":0.999},{"x":225,"y":301,"v":0.999},{"x":229,"y":305,"v":0.998},{"x":233,"y":309,"v":0.996},{"x":237,"y":313,"v":0.993},{"x":241,"y":317,"v":0.984},{"x":245,"y":321,"v":0.963},{"x":249,"y":325,"v":0.915},{"x":253,"y":329,"v":0.817},{"x":257,"y":333,"v":0.647},{"x":261,"y":337,"v":0.431},{"x":265,"y":341,"v":0.238},{"x":269,"y":345,"v":0.113},{"x":273,"y":349,"v":0.05},{"x":277,"y":353,"v":0.021},
{"x":105,"y":189,"v":0.021},{"x":109,"y":193,"v":0.05},{"x":113,"y":197,"v":0.113},{"x":117,"y":201,"v":0.238},{"x":121,"y":205,"v":0.431},{"x":125,"y":209,"v":0.647},{"x":129,"y":213,"v":0.817},{"x":133,"y":217,"v":0.915},{"x":137,"y":221,"v":0.963},{"x":141,"y":225,"v":0.984},{"x":145,"y":229,"v":0.993},{"x":149,"y":233,"v":0.996},{"x":153,"y":237,"v":0.998},{"x":157,"y":241,"v":0.999},{"x":161,"y":245,"v":0.999},{"x":165,"y":249,"v":0.999},{"x":169,"y":253,"v":0.999},{"x":173,"y":257,"v":0.999},{"x":177,"y":261,"v":0.999},{"x":181,"y":265,"v":0.999},{"x":185,"y":269,"v":0.999},{"x":189,"y":273,"v":0.999},{"x":193,"y":277,"v":0.999},{"x":197,"y":281,"v":0.999},{"x":201,"y":285,"v":0.999},{"x":205,"y":289,"v":0.999},{"x":209,"y":293,"v":0.999},{"x":213,"y":297,"v":0.999},{"x":217,"y":301,"v":0.999},{"x":221,"y":305,"v":0.999},{"x":225,"y":309,"v":0.998},{"x":229,"y":313,"v":0.996},{"x":233,"y":317,"v":0.993},{"x":237,"y":321,"v":0.984},{"x":241,"y":325,"v":0.963},{"x":245,"y":329,"v":0.915},{"x":249,"y":333,"v":0.817},{"x":253,"y":337,"v":0.647},{"x":257,"y":341,"v":0.431},{"x":261,"y":345,"v":0.238},{"x":265,"y":349,"v":0.113},{"x":269,"y":353,"v":0.05},{"x":273,"y":357,"v":0.021}
]},"mark":{"type":"point","shape":"square","angle":45,"filled":true,"size":36,"opacity":1,"strokeWidth":0,"clip":true},"encoding":{"x":{"field":"x","type":"quantitative","scale":{"domain":[10,380],"nice":false,"zero":false},"axis":null},"y":{"field":"y","type":"quantitative","scale":{"domain":[15,384],"nice":false,"zero":false,"reverse":true},"axis":null},"color":{"field":"v","type":"quantitative","scale":{"domain":[0,0.11,0.125,0.34,0.35,0.375,0.64,0.65,0.66,0.89,0.91,1],"range":["#000080","#0000ff","#0000ff","#00dbff","#00e6f7","#15ffe2","#efff08","#f7f500","#ffec00","#ff1300","#e80000","#800000"],"interpolate":"rgb"},"legend":null}}},
{"width":19,"height":369,"data":{"values":[{"lo":0,"hi":1}]},"mark":{"type":"rect","fill":{"gradient":"linear","x1":0,"y1":1,"x2":0,"y2":0,"stops":[{"offset":0,"color":"#000080"},{"offset":0.11,"color":"#0000ff"},{"offset":0.125,"color":"#0000ff"},{"offset":0.34,"color":"#00dbff"},{"offset":0.35,"color":"#00e6f7"},{"offset":0.375,"color":"#15ffe2"},{"offset":0.64,"color":"#efff08"},{"offset":0.65,"color":"#f7f500"},{"offset":0.66,"color":"#ffec00"},{"offset":0.89,"color":"#ff1300"},{"offset":0.91,"color":"#e80000"},{"offset":1,"color":"#800000"}]},"stroke":"black","strokeWidth":1},"encoding":{"x":{"value":0},"x2":{"value":"width"},"y":{"field":"lo","type":"quantitative","scale":{"domain":[0,1],"nice":false,"zero":false},"axis":{"orient":"right","values":[0,0.2,0.4,0.6,0.8,1],"format":".1f","tickSize":4,"tickWidth":1,"tickColor":"black","labelPadding":5.5,"labelFont":"DejaVu Sans","labelFontSize":12.5,"labelColor":"black","labelFlush":false,"labelOverlap":false,"domain":false,"grid":false,"title":null}},"y2":{"field":"hi"}}}]}
